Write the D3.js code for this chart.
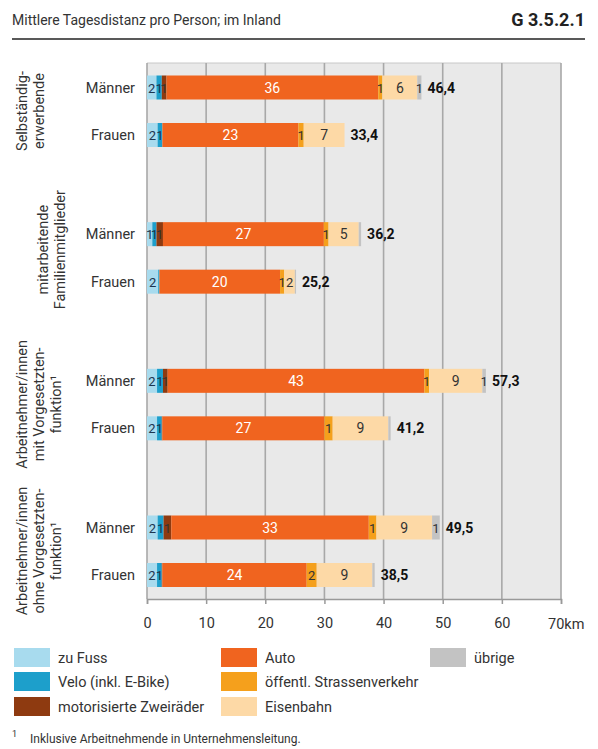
<!DOCTYPE html>
<html><head><meta charset="utf-8">
<script src="https://cdn.jsdelivr.net/npm/d3@7"></script>
<style>
body{margin:0;background:#fff;}
svg{display:block;font-family:Roboto,"Noto Sans",sans-serif;}
</style></head>
<body>
<svg id="c" width="598" height="749"></svg>
<script>
const title = "Mittlere Tagesdistanz pro Person; im Inland";
const code = "G 3.5.2.1";
const footnote = "Inklusive Arbeitnehmende in Unternehmensleitung.";
const groups = [
  ["Selbständig-", "erwerbende"],
  ["mitarbeitende", "Familienmitglieder"],
  ["Arbeitnehmer/innen", "mit Vorgesetzten-", "funktion¹"],
  ["Arbeitnehmer/innen", "ohne Vorgesetzten-", "funktion¹"]
];
const sexes = ["Männer", "Frauen"];
const series = ["zu Fuss", "Velo (inkl. E-Bike)", "motorisierte Zweiräder", "Auto", "öffentl. Strassenverkehr", "Eisenbahn", "übrige"];
const colors = ["#a8dbee", "#1d9fcb", "#8e3a10", "#f0641f", "#f5a01c", "#fdd9a6", "#c3c3c3"];
// rows: [group, sex] values per series (km)
const values = [
  [1.6, 0.9, 0.8, 35.8, 0.7, 5.9, 0.7],
  [1.8, 0.8, 0.0, 23.0, 0.9, 6.9, 0.0],
  [0.9, 0.7, 1.1, 27.2, 0.8, 5.1, 0.4],
  [1.9, 0.2, 0.0, 20.4, 0.7, 1.8, 0.2],
  [1.7, 1.0, 0.8, 43.4, 0.8, 9.0, 0.6],
  [1.7, 0.8, 0.1, 27.4, 1.4, 9.4, 0.4],
  [1.8, 1.0, 1.3, 33.4, 1.3, 9.4, 1.3],
  [1.7, 0.8, 0.1, 24.4, 1.7, 9.4, 0.4]
];
const totals = [46.4, 33.4, 36.2, 25.2, 57.3, 41.2, 49.5, 38.5];
const ticks = [0, 10, 20, 30, 40, 50, 60, 70];

const svg = d3.select("#c");
const pLeft = 147, pRight = 561, pTop = 63, pBottom = 599;
const x = d3.scaleLinear().domain([0, 70]).range([pLeft, pRight]);
const gy = d3.scalePoint().domain(d3.range(groups.length)).range([111, 551]);
const barH = 24;
const rowY = (r) => gy(Math.floor(r / 2)) + (r % 2 === 0 ? -23.5 : 24);

// header
svg.append("text").attr("x", 12).attr("y", 25).attr("font-size", 14).attr("fill", "#333").text(title);
svg.append("text").attr("x", 585).attr("y", 26).attr("text-anchor", "end").attr("font-size", 18).attr("font-weight", "bold").attr("fill", "#222").text(code);
svg.append("line").attr("x1", 12).attr("x2", 585).attr("y1", 39).attr("y2", 39).attr("stroke", "#222").attr("stroke-width", 1.3);

// plot background
svg.append("rect").attr("x", pLeft).attr("y", pTop).attr("width", pRight - pLeft).attr("height", pBottom - pTop).attr("fill", "#e9e9e9");
svg.append("line").attr("x1", pLeft).attr("x2", pRight).attr("y1", pTop).attr("y2", pTop).attr("stroke", "#c8c8c8");
// gridlines
svg.append("g").selectAll("line").data(ticks).join("line")
  .attr("x1", d => x(d)).attr("x2", d => x(d)).attr("y1", pTop).attr("y2", pBottom)
  .attr("stroke", "#a8a8a8").attr("stroke-width", 1.6);

// axis
const ax = svg.append("g").attr("transform", `translate(0,${pBottom})`)
  .call(d3.axisBottom(x).tickValues(ticks).tickSize(5).tickPadding(14).tickFormat(d => d === 70 ? "" : d));
ax.select(".domain").attr("stroke", "#999").attr("stroke-width", 1.5);
ax.selectAll(".tick line").attr("stroke", "#999").attr("stroke-width", 1.5);
ax.selectAll(".tick text").attr("font-size", 14.5).attr("fill", "#333").attr("font-family", "Roboto");
svg.append("text").attr("x", x(70) - 13).attr("y", 628.5).attr("font-size", 14.5).attr("fill", "#333").text("70km");

// bars
const rows = svg.append("g");
values.forEach((vals, r) => {
  const stack = d3.cumsum(vals);
  const y0 = rowY(r) - barH / 2;
  const g = rows.append("g");
  vals.forEach((v, i) => {
    if (v <= 0) return;
    const s = stack[i] - v;
    g.append("rect").attr("x", x(s)).attr("y", y0).attr("width", x(stack[i]) - x(s)).attr("height", barH).attr("fill", colors[i]);
  });
  vals.forEach((v, i) => {
    if (v < 0.5) return;
    const s = stack[i] - v;
    g.append("text").attr("x", (x(s) + x(stack[i])) / 2).attr("y", rowY(r) + 5)
      .attr("text-anchor", "middle").attr("font-size", v < 3 ? 13 : 14)
      .attr("fill", i === 3 ? "#fff" : (i <= 1 ? "#1b3550" : "#333"))
      .text(Math.round(v));
  });
  g.append("text").attr("x", x(totals[r]) + 6).attr("y", rowY(r) + 5).attr("font-size", 14)
    .attr("font-weight", "bold").attr("fill", "#111").text(String(totals[r]).replace(".", ","));
  svg.append("text").attr("x", 135).attr("y", rowY(r) + 5).attr("text-anchor", "end")
    .attr("font-size", 14.5).attr("fill", "#333").text(sexes[r % 2]);
});

// group labels (rotated)
groups.forEach((lines, gi) => {
  const cy = gy(gi) + (gi === 1 ? -8 : 0);
  const n = lines.length;
  const x0 = n === 2 ? (gi === 0 ? 27 : 48) : 27;
  lines.forEach((t, li) => {
    const lx = x0 + li * 17;
    svg.append("text").attr("transform", `translate(${lx},${cy}) rotate(-90)`)
      .attr("text-anchor", "middle").attr("font-size", 14.5).attr("fill", "#333").text(t);
  });
});

// legend
const lg = svg.append("g");
const colX = [14, 221, 430], rowLY = [648, 672, 697];
series.forEach((s, i) => {
  const c = i < 3 ? 0 : (i < 6 ? 1 : 2), rr = i < 3 ? i : (i < 6 ? i - 3 : 0);
  lg.append("rect").attr("x", colX[c]).attr("y", rowLY[rr]).attr("width", 36).attr("height", 19).attr("fill", colors[i]);
  lg.append("text").attr("x", colX[c] + 44).attr("y", rowLY[rr] + 15).attr("font-size", 14.5).attr("fill", "#333").text(s);
});

// footnote
svg.append("text").attr("x", 12).attr("y", 737).attr("font-size", 9).attr("fill", "#333").text("1");
svg.append("text").attr("x", 30).attr("y", 743).attr("font-size", 12).attr("fill", "#333").text(footnote);
</script>
</body></html>
